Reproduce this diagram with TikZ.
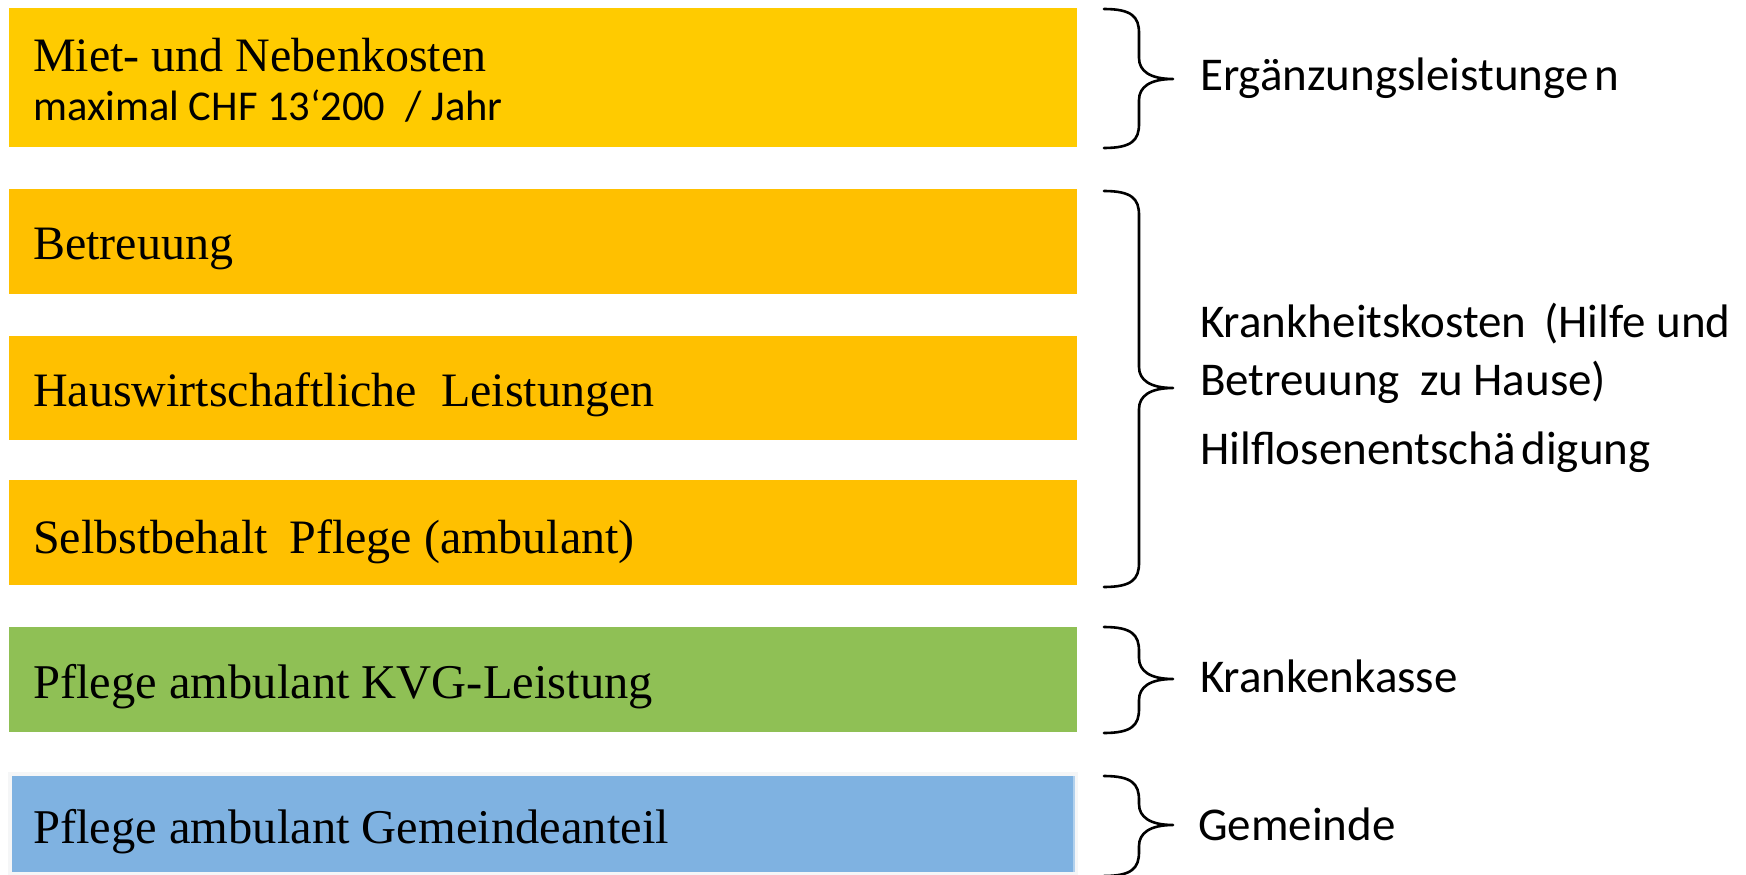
\documentclass[tikz,border=0pt]{standalone}
\usepackage{fontspec}
\setmainfont{Liberation Serif}
\newfontfamily\calfont{Carlito}
\definecolor{cyellow}{HTML}{FFCB00}
\definecolor{corange}{HTML}{FFC000}
\definecolor{cgreen}{HTML}{8FC055}
\definecolor{cblue}{HTML}{7FB2E1}
\definecolor{cframe}{HTML}{F5F6F7}
\tikzset{
  bar/.style={inner sep=0pt, outer sep=0pt, draw=none, rectangle, minimum width=1068pt},
  lefttxt/.style={anchor=base west, inner sep=0pt, font=\fontsize{48.5}{56}\selectfont},
  righttxt/.style={anchor=base west, inner sep=0pt, font=\calfont\fontsize{47}{54}\selectfont},
  bracestyle/.style={line width=2.6pt, line cap=round, line join=round}
}
\newcommand{\mybrace}[3]{% top, mid, bottom
  \draw[bracestyle] (1104,#1) .. controls (1132,#1) and (1139,{#1+8}) .. (1139,{#1+24})
    -- (1139,{#2-21}) .. controls (1139,{#2-8}) and (1150,#2) .. (1173,#2)
    .. controls (1150,#2) and (1139,{#2+8}) .. (1139,{#2+21})
    -- (1139,{#3-24}) .. controls (1139,{#3-8}) and (1132,#3) .. (1104,#3);}
\begin{document}
\begin{tikzpicture}[x=1pt,y=-1pt]
\useasboundingbox (0,0) rectangle (1746,875);
% boxes
\node[bar, fill=cyellow, minimum height=139pt] (box1) at (543,77.5) {};
\node[bar, fill=corange, minimum height=105pt] (box2) at (543,241.5) {};
\node[bar, fill=corange, minimum height=104pt] (box3) at (543,388) {};
\node[bar, fill=corange, minimum height=105pt] (box4) at (543,532.5) {};
\node[bar, fill=cgreen, minimum height=105pt] (box5) at (543,679.5) {};
\node[bar, fill=cframe, minimum width=1070pt, minimum height=103pt] (box6f) at (543,823.5) {};
\node[bar, fill=cblue, minimum width=1061pt, minimum height=96pt] (box6) at (542.5,824) {};
\fill[cblue!60!white] (box6.north east) rectangle ([xshift=2pt]box6.south east);
% left texts
\node[lefttxt, font=\fontsize{48}{56}\selectfont] (t1) at (33,71) {Miet- und Nebenkosten};
\node[lefttxt, font=\calfont\fontsize{42.5}{48}\selectfont] (t1b) at (33,120) {maximal CHF 13‘200\hspace{0.25em} / Jahr};
\node[lefttxt, font=\fontsize{48}{56}\selectfont] (t2) at (33,259) {Betreuung};
\node[lefttxt, font=\fontsize{48}{56}\selectfont] (t3) at (33,406) {Hauswirtschaftliche\hspace{0.25em} Leistungen};
\node[lefttxt, font=\fontsize{48}{56}\selectfont] (t4) at (33,553) {Selbstbehalt\hspace{0.2em} Pflege (ambulant)};
\node[lefttxt] (t5) at (33,698) {Pflege ambulant KVG-Leistung};
\node[lefttxt] (t6) at (33,843) {Pflege ambulant Gemeindeanteil};
% braces
\mybrace{9}{79}{148}
\mybrace{191}{388}{587}
\mybrace{627}{679}{733}
\mybrace{776}{825}{876}
% right texts
\node[righttxt] (r1) at (1200,91) {Ergänzungsleistunge\kern0.12em n};
\node[righttxt] (r2a) at (1200,337) {Krankheitskosten\hspace{0.15em} (Hilfe und};
\node[righttxt] (r2b) at (1200,395) {Betreuung\hspace{0.2em} zu Hause)};
\node[righttxt] (r2c) at (1200,464) {Hilflosenentschä\kern0.12em digung};
\node[righttxt] (r3) at (1200,692) {Krankenkasse};
\node[righttxt] (r4) at (1198,840) {Gemeinde};
\end{tikzpicture}
\end{document}
